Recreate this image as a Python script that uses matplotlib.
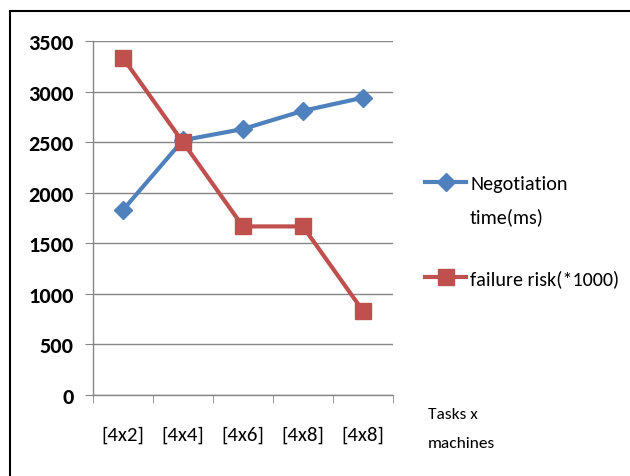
import numpy as np
import matplotlib.pyplot as plt
from matplotlib.patches import Rectangle

# data
categories = ['[4x2]', '[4x4]', '[4x6]', '[4x8]', '[4x8]']
negotiation_time = [1830, 2520, 2630, 2810, 2940]
failure_risk = [3333, 2500, 1667, 1667, 833]

plt.rcParams['font.family'] = ['Carlito', 'DejaVu Sans']

fig = plt.figure(figsize=(6.3, 4.77), dpi=100)
ax = fig.add_axes([0.1476, 0.1698, 0.476, 0.742])

x = np.arange(len(categories))
ax.plot(x, negotiation_time, color='#4F81BD', lw=3, marker='D', ms=9,
        label='Negotiation', zorder=3)
ax.plot(x, failure_risk, color='#C0504D', lw=3, marker='s', ms=11,
        label='failure risk(*1000)', zorder=3)

ax.set_xlim(-0.5, len(categories) - 0.5)
ax.set_ylim(0, 3500)
ax.set_yticks(np.arange(0, 3501, 500))
ax.yaxis.grid(True, color='#868686', lw=1)
ax.set_axisbelow(True)

ax.set_xticks(x)
ax.set_xticklabels(categories, fontsize=15)
ax.set_xticks(np.arange(-0.5, len(categories)), minor=True)
ax.tick_params(axis='x', which='major', length=0, pad=22)
ax.tick_params(axis='x', which='minor', length=6, color='#868686', direction='out')
ax.tick_params(axis='y', length=6, color='#868686', labelsize=16, pad=8)
for lab in ax.get_yticklabels():
    lab.set_fontweight('bold')

for s in ['top', 'right']:
    ax.spines[s].set_visible(False)
for s in ['left', 'bottom']:
    ax.spines[s].set_color('#868686')
    ax.spines[s].set_linewidth(1)

leg = ax.legend(loc='center left', bbox_to_anchor=(425 / 630, 1 - 232 / 477),
                bbox_transform=fig.transFigure, frameon=False, fontsize=14.5,
                handlelength=2.05, handletextpad=0.2, labelspacing=3.85,
                borderpad=0, borderaxespad=0, numpoints=1)
# second line of the first legend label
fig.text(470 / 630, 1 - 217 / 477, 'time(ms)', fontsize=14.5, va='center')

fig.text(428 / 630, 1 - 415 / 477, 'Tasks x', fontsize=12.5, va='center')
fig.text(428 / 630, 1 - 444 / 477, 'machines', fontsize=12.5, va='center')

# outer frame
fig.patches.append(Rectangle((10 / 630, -0.01), 1.0, 1 - 12 / 477 + 0.01,
                             transform=fig.transFigure, fill=False,
                             edgecolor='black', lw=1.5))

fig.savefig('out.png', dpi=100)
